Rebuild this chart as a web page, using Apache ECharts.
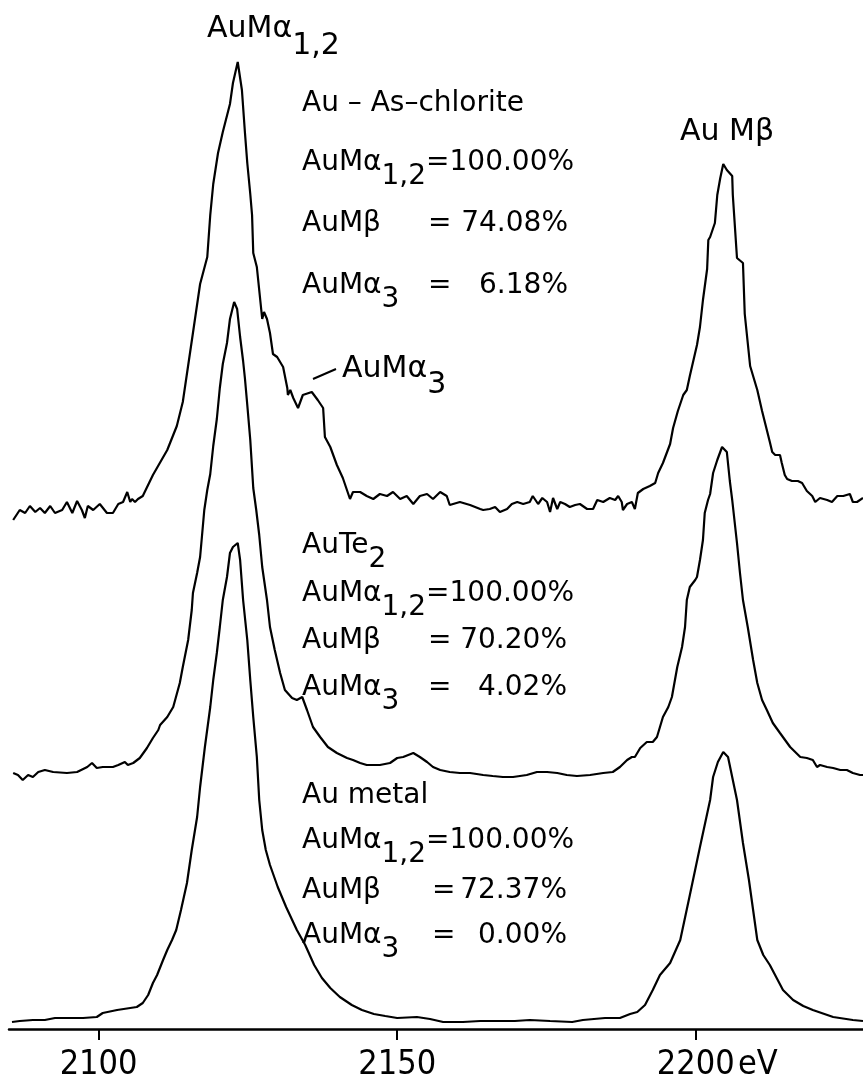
<!DOCTYPE html>
<html><head><meta charset="utf-8">
<script src="https://cdn.jsdelivr.net/npm/echarts@6/dist/echarts.min.js"></script>
<style>html,body{margin:0;padding:0;background:#fff}#c{width:863px;height:1082px}</style>
</head><body><div id="c"></div>
<script>
// ---- data (energy in eV, intensity in arbitrary units, stacked spectra) ----
const xTicks = [2100, 2150, 2200];
const chlorite = [[2085.7,509],[2086.8,519],[2087.7,516],[2088.5,523],[2089.4,517],[2090.2,521],[2091.0,516],[2091.9,523],[2092.7,516],[2093.9,519],[2094.7,527],[2095.6,516],[2096.4,528],[2097.2,519],[2097.7,511],[2098.2,523],[2099.1,519],[2100.2,525],[2101.4,516],[2102.4,516],[2103.3,525],[2104.1,527],[2104.8,537],[2105.3,527],[2105.6,530],[2106.1,527],[2106.6,530],[2107.4,533],[2109.1,554],[2111.5,579],[2113.1,603],[2114.1,627],[2115.8,696],[2117.0,745],[2118.2,772],[2118.7,814],[2119.2,845],[2120.0,876],[2120.8,897],[2122.0,925],[2122.5,946],[2123.3,967],[2124.0,939],[2124.5,897],[2124.9,866],[2125.4,835],[2125.7,814],[2125.9,776],[2126.5,762],[2127.4,710],[2127.7,717],[2128.2,710],[2128.7,696],[2129.2,675],[2129.9,672],[2130.9,662],[2131.6,641],[2131.7,634],[2132.1,639],[2132.6,631],[2133.4,621],[2134.2,634],[2135.7,637],[2136.7,629],[2137.6,621],[2137.9,592],[2138.8,582],[2139.9,564],[2140.9,551],[2142.1,530],[2142.6,537],[2143.8,537],[2144.9,533],[2146.0,530],[2147.1,535],[2148.3,533],[2149.3,537],[2150.5,530],[2151.6,533],[2152.7,525],[2153.8,533],[2155.0,535],[2156.0,530],[2157.2,537],[2158.3,533],[2158.8,524],[2160.5,527],[2162.2,524],[2163.9,520],[2164.4,519],[2165.5,520],[2166.4,522],[2167.2,517],[2168.4,520],[2169.2,525],[2170.1,527],[2171.1,525],[2172.2,527],[2172.7,533],[2173.6,525],[2174.3,531],[2175.1,527],[2175.6,517],[2176.1,531],[2176.8,520],[2177.3,527],[2178.1,525],[2178.9,522],[2179.8,524],[2180.6,525],[2181.8,520],[2182.8,520],[2183.5,529],[2184.5,527],[2185.6,531],[2186.5,529],[2187.0,533],[2187.6,527],[2187.8,519],[2188.5,525],[2189.3,527],[2189.8,520],[2190.3,536],[2191.2,540],[2192.3,543],[2193.2,546],[2193.7,556],[2194.5,566],[2195.7,585],[2196.2,601],[2197.0,618],[2197.9,634],[2198.5,639],[2199.0,653],[2200.2,684],[2200.7,702],[2201.2,729],[2201.9,760],[2202.1,789],[2202.4,792],[2203.2,806],[2203.6,834],[2204.1,851],[2204.6,865],[2205.2,859],[2206.1,853],[2206.2,834],[2206.9,771],[2207.1,770],[2207.9,766],[2208.2,715],[2209.1,663],[2210.3,639],[2211.1,618],[2212.4,587],[2212.8,577],[2213.3,574],[2214.1,574],[2214.4,566],[2214.9,554],[2215.3,550],[2216.1,548],[2217.1,548],[2217.8,546],[2218.6,538],[2219.5,533],[2220.0,527],[2220.8,531],[2222.0,529],[2222.8,527],[2223.7,533],[2224.7,533],[2225.0,535],[2225.8,535],[2226.3,527],[2227.0,527],[2228.0,531]];
const auTe2 = [[2085.7,256],[2086.5,254],[2087.3,249],[2088.2,254],[2089.0,252],[2089.9,257],[2091.0,259],[2092.4,257],[2094.7,256],[2096.4,257],[2098.1,262],[2098.9,266],[2099.7,261],[2100.7,262],[2102.4,262],[2103.3,264],[2104.4,267],[2104.9,264],[2105.8,266],[2106.9,271],[2108.1,281],[2109.1,291],[2110.0,299],[2110.3,304],[2111.5,312],[2112.5,322],[2113.6,346],[2114.1,362],[2115.0,389],[2115.6,419],[2115.8,436],[2116.5,456],[2117.0,472],[2117.3,492],[2117.7,519],[2118.2,539],[2118.7,555],[2119.2,583],[2119.8,610],[2120.3,641],[2120.8,665],[2121.5,686],[2122.0,710],[2122.7,727],[2123.2,720],[2123.7,692],[2124.2,668],[2124.5,651],[2124.9,624],[2125.4,589],[2125.9,541],[2126.4,519],[2126.9,494],[2127.4,462],[2128.2,429],[2128.7,402],[2129.5,379],[2130.4,356],[2131.2,339],[2132.4,331],[2133.2,329],[2134.1,332],[2134.9,319],[2135.9,302],[2137.1,292],[2138.4,282],[2139.9,276],[2141.6,271],[2142.6,269],[2143.8,266],[2144.9,264],[2147.1,264],[2148.8,266],[2150.0,271],[2151.0,272],[2152.7,276],[2153.8,272],[2155.0,267],[2156.0,262],[2157.2,259],[2158.8,257],[2160.5,256],[2162.2,256],[2164.4,254],[2166.0,253],[2167.7,252],[2169.4,252],[2171.7,254],[2173.4,257],[2175.1,257],[2176.8,256],[2178.4,254],[2180.1,253],[2182.3,254],[2184.5,256],[2186.1,257],[2187.3,262],[2188.5,269],[2189.3,272],[2189.8,272],[2190.7,281],[2191.8,287],[2192.8,287],[2193.5,292],[2194.0,302],[2194.5,312],[2195.4,322],[2196.0,332],[2196.9,362],[2197.7,382],[2198.2,402],[2198.5,429],[2199.0,442],[2199.9,449],[2200.2,452],[2200.7,469],[2201.2,489],[2201.5,516],[2202.05,529],[2202.4,535],[2202.9,556],[2203.6,569],[2204.4,582],[2205.2,577],[2205.7,548],[2206.1,529],[2206.9,486],[2207.4,456],[2207.9,429],[2208.7,402],[2209.6,369],[2210.3,346],[2211.1,329],[2211.9,319],[2212.9,306],[2214.1,296],[2215.8,282],[2217.5,272],[2218.6,271],[2219.6,269],[2220.3,262],[2220.8,264],[2222.0,262],[2223.0,261],[2224.2,259],[2225.3,259],[2226.3,256],[2227.5,254],[2228.0,254]];
const auMetal = [[2085.5,7],[2086.8,8],[2089.0,9],[2091.0,9],[2092.7,11],[2094.7,11],[2097.4,11],[2099.7,12],[2100.7,16],[2103.1,19],[2105.3,21],[2106.4,22],[2107.4,26],[2108.3,34],[2109.1,46],[2109.8,54],[2110.8,69],[2111.5,79],[2112.3,89],[2113.0,99],[2113.8,119],[2114.8,146],[2115.6,179],[2116.5,212],[2117.0,242],[2117.8,282],[2118.7,322],[2119.2,349],[2119.8,376],[2120.3,402],[2120.8,429],[2121.5,452],[2122.0,476],[2122.5,482],[2123.3,486],[2123.7,469],[2124.2,429],[2124.9,389],[2125.4,349],[2125.9,312],[2126.5,272],[2126.9,229],[2127.4,199],[2128.0,179],[2128.7,164],[2130.0,142],[2131.4,122],[2133.2,99],[2134.6,84],[2136.1,64],[2137.4,51],[2138.8,41],[2140.4,32],[2142.4,24],[2144.1,19],[2146.1,15],[2148.0,13],[2150.0,11],[2153.3,12],[2155.5,10],[2157.7,7],[2161.0,7],[2163.9,8],[2166.7,8],[2169.7,8],[2172.2,9],[2175.6,8],[2179.3,7],[2181.1,9],[2184.8,11],[2187.3,11],[2189.0,15],[2190.2,17],[2191.5,24],[2192.8,39],[2194.0,54],[2195.7,66],[2197.4,89],[2198.9,131],[2200.7,182],[2202.4,229],[2202.9,252],[2203.7,267],[2204.6,277],[2205.4,272],[2206.9,229],[2207.9,186],[2208.9,149],[2209.6,119],[2210.3,89],[2211.3,74],[2212.4,64],[2214.6,39],[2216.3,29],[2218.0,23],[2219.6,19],[2223.0,12],[2226.3,9],[2228.0,8]];

// text content: [text, isSubscript]
const sampleTitles = [[['Au – As–chlorite',0]], [['AuTe',0],['2',1]], [['Au metal',0]]];
const lineNames = [[['AuMα',0],['1,2',1]], [['AuMβ',0]], [['AuMα',0],['3',1]]];
const ratiosChlorite = ['100.00%', '74.08%', '6.18%'];
const ratiosAuTe2 = ['100.00%', '70.20%', '4.02%'];
const ratiosMetal = ['100.00%', '72.37%', '0.00%'];
const peakLabelMa12 = [['AuMα',0],['1,2',1]];
const peakLabelMb = [['Au Mβ',0]];
const peakLabelMa3 = [['AuMα',0],['3',1]];
const unitLabel = 'eV';

// ---- rendering ----
const FONT = '"DejaVu Sans", sans-serif';
const NARROW = '"Liberation Sans Narrow", "DejaVu Sans Condensed", sans-serif';

function txt(x, B, parts, fs, P, align) {
  const font = fs + 'px ' + FONT;
  const text = parts.map(p => '{' + (p[1] ? 's' : 'm') + '|' + p[0] + '}').join('');
  return {
    type: 'text', x: x, y: B + P + 0.154 * fs, silent: true,
    style: {
      text: text, font: font, fill: '#000', align: align || 'left', verticalAlign: 'bottom',
      rich: {
        m: { font: font, fill: '#000', padding: [0, 0, P, 0], verticalAlign: 'bottom' },
        s: { font: font, fill: '#000', verticalAlign: 'bottom' }
      }
    }
  };
}

function block(layout, ratios, title) {
  const fs = 28, P = 14, out = [];
  out.push(txt(layout.x, layout.b[0], title, fs, P));
  out.push(txt(layout.x, layout.b[1], lineNames[0].concat([['=' + ratios[0], 0]]), fs, P));
  for (let i = 1; i < 3; i++) {
    out.push(txt(layout.x, layout.b[i + 1], lineNames[i], fs, P));
    out.push(txt(layout.eq, layout.b[i + 1], [['=', 0]], fs, P));
    out.push(txt(layout.end, layout.b[i + 1], [[ratios[i], 0]], fs, P, 'right'));
  }
  return out;
}

const graphics = []
  .concat(block({x: 302, b: [113, 172, 233, 295], eq: 428, end: 568}, ratiosChlorite, sampleTitles[0]))
  .concat(block({x: 302, b: [555, 603, 650, 697], eq: 428, end: 567}, ratiosAuTe2, sampleTitles[1]))
  .concat(block({x: 302, b: [805, 850, 900, 945], eq: 432, end: 567}, ratiosMetal, sampleTitles[2]))
  .concat([
    txt(207, 40, peakLabelMa12, 30, 17),
    txt(680, 143, peakLabelMb, 30, 0),
    txt(342, 380, peakLabelMa3, 30, 16),
    { type: 'line', silent: true, shape: {x1: 313, y1: 379, x2: 336, y2: 369}, style: {stroke: '#000', lineWidth: 2} },
    { type: 'text', x: 738, y: 1048, silent: true,
      style: { text: unitLabel, font: '34px ' + NARROW, fill: '#000', align: 'left', verticalAlign: 'top' } }
  ]);

const lineStyle = { color: '#000', width: 2.2 };
const mk = (name, data) => ({ name, type: 'line', data, showSymbol: false, symbol: 'none',
  lineStyle, itemStyle: {color: '#000'}, silent: true, z: 2 });

const chart = echarts.init(document.getElementById('c'), null, { renderer: 'canvas' });
chart.setOption({
  animation: false,
  backgroundColor: '#fff',
  grid: { left: 9, right: 0, top: 0, bottom: 53, containLabel: false },
  xAxis: {
    type: 'value', min: 2085, max: 2228,
    splitLine: { show: false },
    axisLine: { show: true, onZero: false, lineStyle: { color: '#000', width: 2.5 } },
    axisTick: { show: true, customValues: xTicks, length: 11, lineStyle: { color: '#000', width: 2 } },
    axisLabel: { show: true, customValues: xTicks, margin: 19, color: '#000', fontSize: 34, fontFamily: NARROW,
      formatter: v => String(v) }
  },
  yAxis: { type: 'value', min: 0, max: 1029, show: false },
  series: [mk('Au-As-chlorite', chlorite), mk('AuTe2', auTe2), mk('Au metal', auMetal)],
  graphic: graphics
});
</script>
</body></html>
